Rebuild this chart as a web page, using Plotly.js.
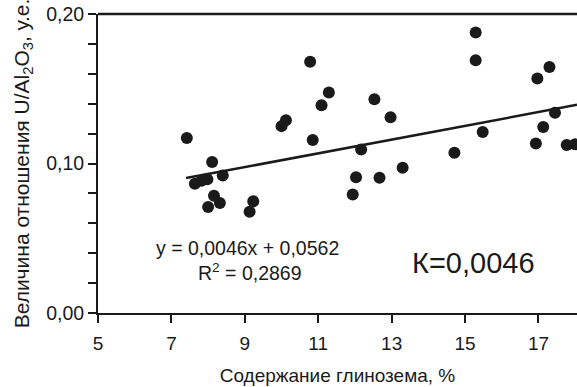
<!DOCTYPE html>
<html>
<head>
<meta charset="utf-8">
<script src="https://cdn.plot.ly/plotly-3.0.1.min.js"></script>
<style>html,body{margin:0;padding:0;background:#fff;}#chart{width:577px;height:387px;}</style>
</head>
<body>
<div id="chart"></div>
<script>
// Alumina content, % (x) and U/Al2O3 ratio (y)
const alumina = [7.42, 8.11, 7.64, 7.82, 7.98, 8.40, 8.16, 8.32, 8.00, 9.23, 9.13,
  10.00, 10.12, 10.85, 10.78, 11.09, 11.29, 12.53, 12.97, 12.17, 12.03, 11.94,
  12.67, 13.30, 14.71, 15.29, 15.29, 15.48, 16.97, 17.30, 17.45, 17.13, 16.93, 17.77, 18.00];
const ratio = [0.117, 0.101, 0.0864, 0.0885, 0.0895, 0.0919, 0.0785, 0.0736, 0.0709, 0.0747, 0.0678,
  0.125, 0.129, 0.1157, 0.168, 0.139, 0.1475, 0.143, 0.131, 0.1094, 0.0908, 0.0792,
  0.0904, 0.0971, 0.1072, 0.1877, 0.169, 0.121, 0.1568, 0.1646, 0.134, 0.1244, 0.1134, 0.1123, 0.1128];
// Linear trend: y = 0.0046x + 0.0562
const slope = 0.0046;
const intercept = 0.0562;
const trendX = [7.4, 18.05];
const trendY = trendX.map(x => slope * x + intercept);

const xTickVals = [5, 7, 9, 11, 13, 15, 17];
const yTickVals = [0, 0.1, 0.2];
const yTickText = ['0,00', '0,10', '0,20'];

const font = 'Liberation Sans, Arial, sans-serif';
const ink = '#1a1a1a';

const traces = [
  {x: trendX, y: trendY, mode: 'lines', line: {color: ink, width: 2.5}, hoverinfo: 'skip', cliponaxis: true},
  {x: alumina, y: ratio, mode: 'markers', marker: {color: ink, size: 12}, cliponaxis: true}
];

const layout = {
  width: 577, height: 387,
  margin: {l: 98, r: 0, t: 14, b: 74},
  paper_bgcolor: '#fff', plot_bgcolor: '#fff',
  showlegend: false,
  font: {family: font, size: 19, color: ink},
  xaxis: {
    range: [5, 18.05], tickvals: xTickVals, ticktext: xTickVals.map(String),
    showgrid: false, zeroline: false, showline: true, linecolor: ink, linewidth: 2,
    ticks: 'outside', ticklen: 8, tickwidth: 2, tickcolor: ink,
    ticklabelstandoff: 4,
    tickfont: {family: font, size: 19, color: ink},
    title: {text: 'Содержание глинозема, %', font: {family: font, size: 19, color: ink}, standoff: 16}
  },
  yaxis: {
    range: [0, 0.2], tickvals: yTickVals, ticktext: yTickText,
    showgrid: false, zeroline: false, showline: true, linecolor: ink, linewidth: 2,
    ticks: 'outside', ticklen: 8, tickwidth: 2, tickcolor: ink,
    minor: {dtick: 0.02, tick0: 0, ticks: 'outside', ticklen: 8, tickwidth: 2, tickcolor: ink, showgrid: false},
    tickfont: {family: font, size: 19.5, color: ink},
    title: {text: 'Величина отношения U/Al<sub>2</sub>O<sub>3</sub>, у.е.', font: {family: font, size: 21, color: ink}, standoff: 11}
  },
  shapes: [
    {type: 'line', xref: 'paper', yref: 'paper', x0: 0, x1: 1, y0: 1, y1: 1, line: {color: ink, width: 2.5}}
  ],
  annotations: [
    {xref: 'paper', yref: 'paper', x: 0.313, y: 0.218, xanchor: 'center', yanchor: 'middle',
     text: 'y = 0,0046x + 0,0562', showarrow: false, font: {family: font, size: 19.5, color: ink}},
    {xref: 'paper', yref: 'paper', x: 0.318, y: 0.137, xanchor: 'center', yanchor: 'middle',
     text: 'R<sup>2</sup> = 0,2869', showarrow: false, font: {family: font, size: 19.5, color: ink}},
    {xref: 'paper', yref: 'paper', x: 0.783, y: 0.168, xanchor: 'center', yanchor: 'middle',
     text: 'К=0,0046', showarrow: false, font: {family: font, size: 29, color: ink}}
  ]
};

Plotly.newPlot('chart', traces, layout, {displayModeBar: false, staticPlot: true});
</script>
</body>
</html>
